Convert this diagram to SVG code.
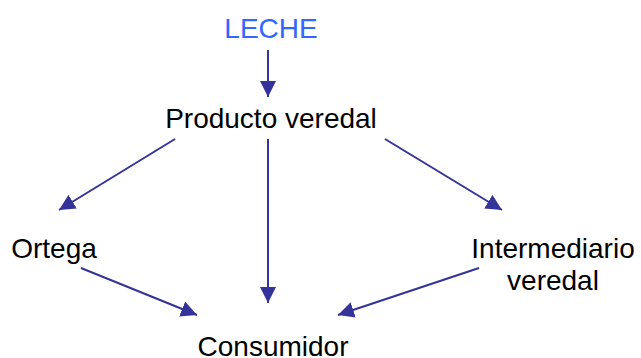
<svg xmlns="http://www.w3.org/2000/svg" width="641" height="358" viewBox="0 0 641 358">
<style>
text{font-family:"Liberation Sans",Arial,sans-serif;font-size:28px;fill:#000;text-anchor:middle}
.blue{fill:#3366ff}
.c line{stroke:#333399;stroke-width:2;fill:none;marker-end:url(#ah)}
</style>
<defs>
<marker id="ah" markerUnits="userSpaceOnUse" markerWidth="16" markerHeight="16" viewBox="0 0 16 16" refX="16" refY="8" orient="auto">
<path d="M0,0 L16,8 L0,16 Z" fill="#333399"/>
</marker>
</defs>
<g class="c" id="connectors">
<line x1="268" y1="50" x2="268" y2="97"/>
<line x1="175" y1="139" x2="59" y2="210"/>
<line x1="268" y1="139" x2="268" y2="303"/>
<line x1="385" y1="139" x2="502" y2="210"/>
<line x1="81" y1="268" x2="197" y2="315"/>
<line x1="479" y1="268" x2="338" y2="315"/>
</g>
<g id="leche"><text class="blue" x="271" y="38">LECHE</text></g>
<g id="producto"><text x="271" y="128">Producto veredal</text></g>
<g id="ortega"><text x="54" y="258">Ortega</text></g>
<g id="intermediario"><text x="553" y="258">Intermediario</text><text x="553" y="290">veredal</text></g>
<g id="consumidor"><text x="273" y="356">Consumidor</text></g>
</svg>
